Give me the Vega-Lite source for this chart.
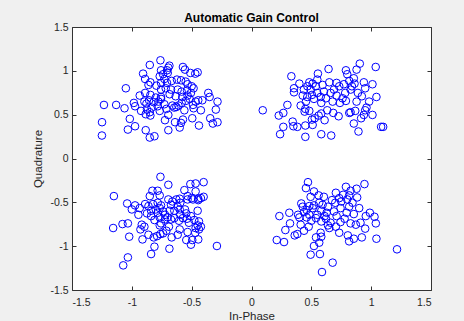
{
  "$schema": "https://vega.github.io/schema/vega-lite/v6.json",
  "autosize": {"type": "none"},
  "padding": {"left": 72, "top": 27, "right": 33, "bottom": 31},
  "width": 359,
  "height": 263,
  "background": "#f0f0f0",
  "config": {
    "view": {"fill": "white", "stroke": "#333333", "strokeWidth": 1},
    "font": "Liberation Sans",
    "axis": {"grid": false, "domain": false, "tickColor": "#333333", "tickSize": -4, "labelColor": "#262626", "labelFontSize": 10.5, "titleColor": "#262626", "titleFontSize": 11.5, "titleFontWeight": "normal", "labelFont": "Liberation Sans", "titleFont": "Liberation Sans", "labelExpr": "'' + datum.value"}
  },
  "title": {"text": "Automatic Gain Control", "fontSize": 12, "fontWeight": "bold", "color": "#000000", "font": "Liberation Sans", "offset": -3},
  "data": {"values": [
    {"I": -0.761, "Q": 1.120}, {"I": -0.850, "Q": 1.067}, {"I": -0.686, "Q": 1.059}, {"I": -0.695, "Q": 1.036}, {"I": -0.706, "Q": 1.006},
    {"I": -0.573, "Q": 1.044}, {"I": -0.556, "Q": 1.014}, {"I": -0.511, "Q": 0.976}, {"I": -0.906, "Q": 0.968}, {"I": -0.889, "Q": 0.907},
    {"I": -0.450, "Q": 0.983}, {"I": -0.470, "Q": 0.968}, {"I": -0.756, "Q": 1.006}, {"I": -0.739, "Q": 0.961}, {"I": -0.767, "Q": 0.938},
    {"I": -0.728, "Q": 0.907}, {"I": -0.700, "Q": 0.976}, {"I": -1.050, "Q": 0.801}, {"I": -0.845, "Q": 0.869}, {"I": -0.861, "Q": 0.839},
    {"I": -0.795, "Q": 0.831}, {"I": -0.756, "Q": 0.862}, {"I": -0.706, "Q": 0.862}, {"I": -0.667, "Q": 0.885}, {"I": -0.623, "Q": 0.900},
    {"I": -0.589, "Q": 0.892}, {"I": -0.550, "Q": 0.877}, {"I": -0.534, "Q": 0.847}, {"I": -0.500, "Q": 0.824}, {"I": -0.484, "Q": 0.801},
    {"I": -0.756, "Q": 0.786}, {"I": -0.717, "Q": 0.801}, {"I": -0.673, "Q": 0.786}, {"I": -0.617, "Q": 0.786}, {"I": -0.584, "Q": 0.763},
    {"I": -0.539, "Q": 0.778}, {"I": -0.506, "Q": 0.748}, {"I": -0.934, "Q": 0.718}, {"I": -0.889, "Q": 0.748}, {"I": -0.845, "Q": 0.725},
    {"I": -0.800, "Q": 0.695}, {"I": -0.756, "Q": 0.702}, {"I": -0.684, "Q": 0.733}, {"I": -0.634, "Q": 0.710}, {"I": -0.578, "Q": 0.702},
    {"I": -0.534, "Q": 0.718}, {"I": -0.361, "Q": 0.748}, {"I": -0.350, "Q": 0.702}, {"I": -1.233, "Q": 0.611}, {"I": -1.131, "Q": 0.611},
    {"I": -1.061, "Q": 0.573}, {"I": -0.983, "Q": 0.634}, {"I": -0.973, "Q": 0.596}, {"I": -0.895, "Q": 0.649}, {"I": -0.878, "Q": 0.626},
    {"I": -0.856, "Q": 0.664}, {"I": -0.817, "Q": 0.642}, {"I": -0.778, "Q": 0.649}, {"I": -0.756, "Q": 0.680}, {"I": -0.728, "Q": 0.619},
    {"I": -0.661, "Q": 0.604}, {"I": -0.645, "Q": 0.581}, {"I": -0.611, "Q": 0.604}, {"I": -0.584, "Q": 0.634}, {"I": -0.550, "Q": 0.657},
    {"I": -0.517, "Q": 0.680}, {"I": -0.489, "Q": 0.611}, {"I": -0.467, "Q": 0.649}, {"I": -0.445, "Q": 0.664}, {"I": -0.411, "Q": 0.664},
    {"I": -0.923, "Q": 0.543}, {"I": -0.873, "Q": 0.558}, {"I": -0.850, "Q": 0.528}, {"I": -0.834, "Q": 0.581}, {"I": -0.784, "Q": 0.596},
    {"I": -0.767, "Q": 0.543}, {"I": -0.711, "Q": 0.566}, {"I": -0.628, "Q": 0.588}, {"I": -0.561, "Q": 0.550}, {"I": -0.484, "Q": 0.573},
    {"I": -0.423, "Q": 0.550}, {"I": -0.284, "Q": 0.649}, {"I": -0.298, "Q": 0.558}, {"I": -1.017, "Q": 0.452}, {"I": -0.884, "Q": 0.505},
    {"I": -0.845, "Q": 0.490}, {"I": -0.695, "Q": 0.497}, {"I": -1.249, "Q": 0.414}, {"I": -1.250, "Q": 0.262}, {"I": -1.033, "Q": 0.330},
    {"I": -0.973, "Q": 0.368}, {"I": -0.884, "Q": 0.323}, {"I": -0.850, "Q": 0.239}, {"I": -0.811, "Q": 0.254}, {"I": -0.723, "Q": 0.437},
    {"I": -0.695, "Q": 0.323}, {"I": -0.639, "Q": 0.414}, {"I": -0.600, "Q": 0.353}, {"I": -0.589, "Q": 0.406}, {"I": -0.573, "Q": 0.444},
    {"I": -0.495, "Q": 0.459}, {"I": -0.439, "Q": 0.376}, {"I": -0.345, "Q": 0.459}, {"I": -0.323, "Q": 0.399}, {"I": -0.284, "Q": 0.414},

    {"I": 0.094, "Q": 0.550}, {"I": 0.333, "Q": 0.938}, {"I": 0.555, "Q": 0.968}, {"I": 0.644, "Q": 1.021}, {"I": 0.789, "Q": 1.006},
    {"I": 0.800, "Q": 0.961}, {"I": 0.905, "Q": 1.082}, {"I": 0.878, "Q": 1.014}, {"I": 1.038, "Q": 1.044}, {"I": 0.355, "Q": 0.801},
    {"I": 0.355, "Q": 0.755}, {"I": 0.400, "Q": 0.854}, {"I": 0.438, "Q": 0.786}, {"I": 0.467, "Q": 0.824}, {"I": 0.483, "Q": 0.869},
    {"I": 0.511, "Q": 0.854}, {"I": 0.494, "Q": 0.786}, {"I": 0.538, "Q": 0.824}, {"I": 0.505, "Q": 0.725}, {"I": 0.550, "Q": 0.748},
    {"I": 0.594, "Q": 0.839}, {"I": 0.650, "Q": 0.869}, {"I": 0.711, "Q": 0.862}, {"I": 0.733, "Q": 0.824}, {"I": 0.772, "Q": 0.847},
    {"I": 0.817, "Q": 0.885}, {"I": 0.855, "Q": 0.915}, {"I": 0.861, "Q": 0.854}, {"I": 0.939, "Q": 0.869}, {"I": 1.011, "Q": 0.847},
    {"I": 0.950, "Q": 0.801}, {"I": 0.828, "Q": 0.786}, {"I": 0.605, "Q": 0.763}, {"I": 0.661, "Q": 0.748}, {"I": 0.711, "Q": 0.718},
    {"I": 0.761, "Q": 0.687}, {"I": 0.789, "Q": 0.657}, {"I": 0.678, "Q": 0.649}, {"I": 0.583, "Q": 0.634}, {"I": 0.411, "Q": 0.604},
    {"I": 0.300, "Q": 0.611}, {"I": 0.466, "Q": 0.702}, {"I": 0.455, "Q": 0.649}, {"I": 0.878, "Q": 0.649}, {"I": 0.922, "Q": 0.710},
    {"I": 0.983, "Q": 0.649}, {"I": 1.044, "Q": 0.702}, {"I": 0.961, "Q": 0.581}, {"I": 0.950, "Q": 0.550}, {"I": 0.939, "Q": 0.497},
    {"I": 0.916, "Q": 0.459}, {"I": 1.011, "Q": 0.497}, {"I": 0.867, "Q": 0.543}, {"I": 0.817, "Q": 0.520}, {"I": 0.828, "Q": 0.528},
    {"I": 0.728, "Q": 0.482}, {"I": 0.683, "Q": 0.520}, {"I": 0.633, "Q": 0.550}, {"I": 0.583, "Q": 0.513}, {"I": 0.561, "Q": 0.490},
    {"I": 0.528, "Q": 0.459}, {"I": 0.483, "Q": 0.543}, {"I": 0.505, "Q": 0.444}, {"I": 0.450, "Q": 0.566}, {"I": 0.611, "Q": 0.437},
    {"I": 0.228, "Q": 0.490}, {"I": 0.266, "Q": 0.520}, {"I": 0.344, "Q": 0.421}, {"I": 0.350, "Q": 0.368}, {"I": 0.266, "Q": 0.361},
    {"I": 0.239, "Q": 0.277}, {"I": 0.383, "Q": 0.361}, {"I": 0.450, "Q": 0.376}, {"I": 0.511, "Q": 0.383}, {"I": 0.450, "Q": 0.247},
    {"I": 0.583, "Q": 0.277}, {"I": 0.666, "Q": 0.262}, {"I": 0.855, "Q": 0.399}, {"I": 0.894, "Q": 0.308}, {"I": 1.083, "Q": 0.361},
    {"I": 1.100, "Q": 0.361}, {"I": 0.428, "Q": 0.718}, {"I": 0.522, "Q": 0.680}, {"I": 0.578, "Q": 0.702}, {"I": 0.622, "Q": 0.687},
    {"I": 0.739, "Q": 0.634}, {"I": 0.783, "Q": 0.748}, {"I": 0.889, "Q": 0.748}, {"I": 0.839, "Q": 0.824}, {"I": 0.689, "Q": 0.786},
    {"I": 0.550, "Q": 0.900}, {"I": 0.444, "Q": 0.535},

    {"I": -0.761, "Q": -0.209}, {"I": -0.695, "Q": -0.300}, {"I": -0.400, "Q": -0.270}, {"I": -0.511, "Q": -0.292}, {"I": -0.467, "Q": -0.285},
    {"I": -0.828, "Q": -0.368}, {"I": -0.784, "Q": -0.368}, {"I": -0.467, "Q": -0.376}, {"I": -0.561, "Q": -0.361}, {"I": -1.150, "Q": -0.429},
    {"I": -0.850, "Q": -0.429}, {"I": -0.767, "Q": -0.421}, {"I": -0.534, "Q": -0.429}, {"I": -0.500, "Q": -0.452}, {"I": -0.445, "Q": -0.459},
    {"I": -0.423, "Q": -0.452}, {"I": -0.400, "Q": -0.437}, {"I": -1.039, "Q": -0.513}, {"I": -0.973, "Q": -0.535}, {"I": -1.000, "Q": -0.581},
    {"I": -0.934, "Q": -0.566}, {"I": -0.889, "Q": -0.520}, {"I": -0.861, "Q": -0.543}, {"I": -0.823, "Q": -0.520}, {"I": -0.784, "Q": -0.505},
    {"I": -0.756, "Q": -0.535}, {"I": -0.767, "Q": -0.566}, {"I": -0.800, "Q": -0.581}, {"I": -0.839, "Q": -0.596}, {"I": -0.784, "Q": -0.619},
    {"I": -0.739, "Q": -0.604}, {"I": -0.695, "Q": -0.467}, {"I": -0.661, "Q": -0.490}, {"I": -0.628, "Q": -0.467}, {"I": -0.600, "Q": -0.459},
    {"I": -0.673, "Q": -0.528}, {"I": -0.617, "Q": -0.550}, {"I": -0.595, "Q": -0.505}, {"I": -0.534, "Q": -0.467}, {"I": -0.489, "Q": -0.467},
    {"I": -0.445, "Q": -0.475}, {"I": -0.450, "Q": -0.596}, {"I": -0.556, "Q": -0.581}, {"I": -0.545, "Q": -0.626}, {"I": -0.506, "Q": -0.657},
    {"I": -0.595, "Q": -0.642}, {"I": -0.645, "Q": -0.596}, {"I": -0.945, "Q": -0.642}, {"I": -0.873, "Q": -0.626}, {"I": -0.839, "Q": -0.657},
    {"I": -0.811, "Q": -0.702}, {"I": -0.767, "Q": -0.672}, {"I": -0.723, "Q": -0.695}, {"I": -0.756, "Q": -0.740}, {"I": -0.700, "Q": -0.672},
    {"I": -0.673, "Q": -0.695}, {"I": -0.645, "Q": -0.680}, {"I": -0.606, "Q": -0.710}, {"I": -0.573, "Q": -0.680}, {"I": -0.539, "Q": -0.687},
    {"I": -0.523, "Q": -0.733}, {"I": -0.478, "Q": -0.702}, {"I": -0.439, "Q": -0.718}, {"I": -0.423, "Q": -0.778}, {"I": -0.467, "Q": -0.793},
    {"I": -0.534, "Q": -0.839}, {"I": -0.600, "Q": -0.809}, {"I": -0.617, "Q": -0.870}, {"I": -0.690, "Q": -0.778}, {"I": -0.711, "Q": -0.824},
    {"I": -0.767, "Q": -0.763}, {"I": -0.739, "Q": -0.854}, {"I": -0.789, "Q": -0.885}, {"I": -0.817, "Q": -0.900}, {"I": -0.861, "Q": -0.870},
    {"I": -0.917, "Q": -0.755}, {"I": -0.928, "Q": -0.809}, {"I": -1.078, "Q": -0.748}, {"I": -1.033, "Q": -0.740}, {"I": -1.156, "Q": -0.793},
    {"I": -1.022, "Q": -0.892}, {"I": -0.911, "Q": -0.923}, {"I": -0.761, "Q": -0.862}, {"I": -0.667, "Q": -0.900}, {"I": -0.545, "Q": -0.930},
    {"I": -0.495, "Q": -0.930}, {"I": -0.445, "Q": -0.923}, {"I": -0.439, "Q": -0.809}, {"I": -0.470, "Q": -0.847}, {"I": -0.506, "Q": -0.983},
    {"I": -0.450, "Q": -0.763}, {"I": -0.289, "Q": -0.998}, {"I": -0.811, "Q": -1.006}, {"I": -0.686, "Q": -1.029}, {"I": -0.839, "Q": -1.090},
    {"I": -1.033, "Q": -1.128}, {"I": -1.072, "Q": -1.219}, {"I": -0.895, "Q": -0.778}, {"I": -0.600, "Q": -0.581}, {"I": -0.684, "Q": -0.596},
    {"I": -0.723, "Q": -0.642},

    {"I": 0.472, "Q": -0.270}, {"I": 0.455, "Q": -0.338}, {"I": 0.522, "Q": -0.376}, {"I": 0.561, "Q": -0.421}, {"I": 0.605, "Q": -0.437},
    {"I": 0.494, "Q": -0.437}, {"I": 0.705, "Q": -0.391}, {"I": 0.789, "Q": -0.323}, {"I": 0.828, "Q": -0.368}, {"I": 0.878, "Q": -0.345},
    {"I": 0.944, "Q": -0.292}, {"I": 0.816, "Q": -0.421}, {"I": 0.766, "Q": -0.414}, {"I": 0.733, "Q": -0.452}, {"I": 0.672, "Q": -0.475},
    {"I": 0.416, "Q": -0.513}, {"I": 0.428, "Q": -0.550}, {"I": 0.483, "Q": -0.543}, {"I": 0.522, "Q": -0.535}, {"I": 0.566, "Q": -0.505},
    {"I": 0.594, "Q": -0.528}, {"I": 0.639, "Q": -0.550}, {"I": 0.700, "Q": -0.505}, {"I": 0.750, "Q": -0.490}, {"I": 0.800, "Q": -0.467},
    {"I": 0.844, "Q": -0.505}, {"I": 0.900, "Q": -0.566}, {"I": 0.816, "Q": -0.550}, {"I": 0.744, "Q": -0.566}, {"I": 0.689, "Q": -0.604},
    {"I": 0.628, "Q": -0.619}, {"I": 0.583, "Q": -0.596}, {"I": 0.511, "Q": -0.566}, {"I": 0.461, "Q": -0.588}, {"I": 0.389, "Q": -0.642},
    {"I": 0.400, "Q": -0.672}, {"I": 0.316, "Q": -0.619}, {"I": 0.233, "Q": -0.657}, {"I": 0.322, "Q": -0.740}, {"I": 0.283, "Q": -0.816},
    {"I": 0.361, "Q": -0.877}, {"I": 0.383, "Q": -0.862}, {"I": 0.439, "Q": -0.824}, {"I": 0.478, "Q": -0.778}, {"I": 0.211, "Q": -0.930},
    {"I": 0.272, "Q": -0.953}, {"I": 0.411, "Q": -0.755}, {"I": 0.500, "Q": -0.710}, {"I": 0.539, "Q": -0.680}, {"I": 0.583, "Q": -0.718},
    {"I": 0.622, "Q": -0.687}, {"I": 0.661, "Q": -0.733}, {"I": 0.705, "Q": -0.778}, {"I": 0.744, "Q": -0.725}, {"I": 0.778, "Q": -0.687},
    {"I": 0.828, "Q": -0.740}, {"I": 0.872, "Q": -0.755}, {"I": 0.911, "Q": -0.733}, {"I": 0.955, "Q": -0.657}, {"I": 0.989, "Q": -0.619},
    {"I": 1.028, "Q": -0.665}, {"I": 1.039, "Q": -0.740}, {"I": 0.950, "Q": -0.800}, {"I": 0.922, "Q": -0.900}, {"I": 0.855, "Q": -0.915},
    {"I": 0.805, "Q": -0.877}, {"I": 0.816, "Q": -0.945}, {"I": 0.733, "Q": -0.847}, {"I": 0.650, "Q": -0.793}, {"I": 0.578, "Q": -0.847},
    {"I": 0.539, "Q": -0.900}, {"I": 0.566, "Q": -0.960}, {"I": 0.522, "Q": -0.998}, {"I": 0.583, "Q": -0.892}, {"I": 0.494, "Q": -1.097},
    {"I": 0.572, "Q": -1.090}, {"I": 0.678, "Q": -1.188}, {"I": 0.589, "Q": -1.295}, {"I": 1.044, "Q": -0.915}, {"I": 1.216, "Q": -1.036},
    {"I": 0.483, "Q": -0.642}, {"I": 0.550, "Q": -0.642}, {"I": 0.611, "Q": -0.657}, {"I": 0.711, "Q": -0.657}, {"I": 0.795, "Q": -0.619},
    {"I": 0.855, "Q": -0.634}, {"I": 0.461, "Q": -0.672}, {"I": 0.439, "Q": -0.611}, {"I": 0.639, "Q": -0.763}, {"I": 0.883, "Q": -0.444}
  ]},
  "layer": [
    {
      "mark": {"type": "point", "shape": "circle", "filled": false, "stroke": "#0000ff", "strokeWidth": 1, "size": 58, "opacity": 1},
      "encoding": {
        "x": {"field": "I", "type": "quantitative", "scale": {"domain": [-1.5, 1.5], "nice": false, "zero": false},
              "axis": {"title": "In-Phase", "values": [-1.5, -1, -0.5, 0, 0.5, 1, 1.5], "labelPadding": 11, "titlePadding": 3}},
        "y": {"field": "Q", "type": "quantitative", "scale": {"domain": [-1.5, 1.5], "nice": false, "zero": false},
              "axis": {"title": "Quadrature", "values": [-1.5, -1, -0.5, 0, 0.5, 1, 1.5], "labelPadding": 8, "titlePadding": 6}}
      }
    },
    {
      "mark": {"type": "point", "opacity": 0},
      "encoding": {
        "x": {"field": "I", "type": "quantitative", "scale": {"domain": [-1.5, 1.5], "nice": false, "zero": false},
              "axis": {"orient": "top", "title": null, "labels": false, "values": [-1.5, -1, -0.5, 0, 0.5, 1, 1.5]}},
        "y": {"field": "Q", "type": "quantitative", "scale": {"domain": [-1.5, 1.5], "nice": false, "zero": false},
              "axis": {"orient": "right", "title": null, "labels": false, "values": [-1.5, -1, -0.5, 0, 0.5, 1, 1.5]}}
      }
    }
  ],
  "resolve": {"axis": {"x": "independent", "y": "independent"}}
}
